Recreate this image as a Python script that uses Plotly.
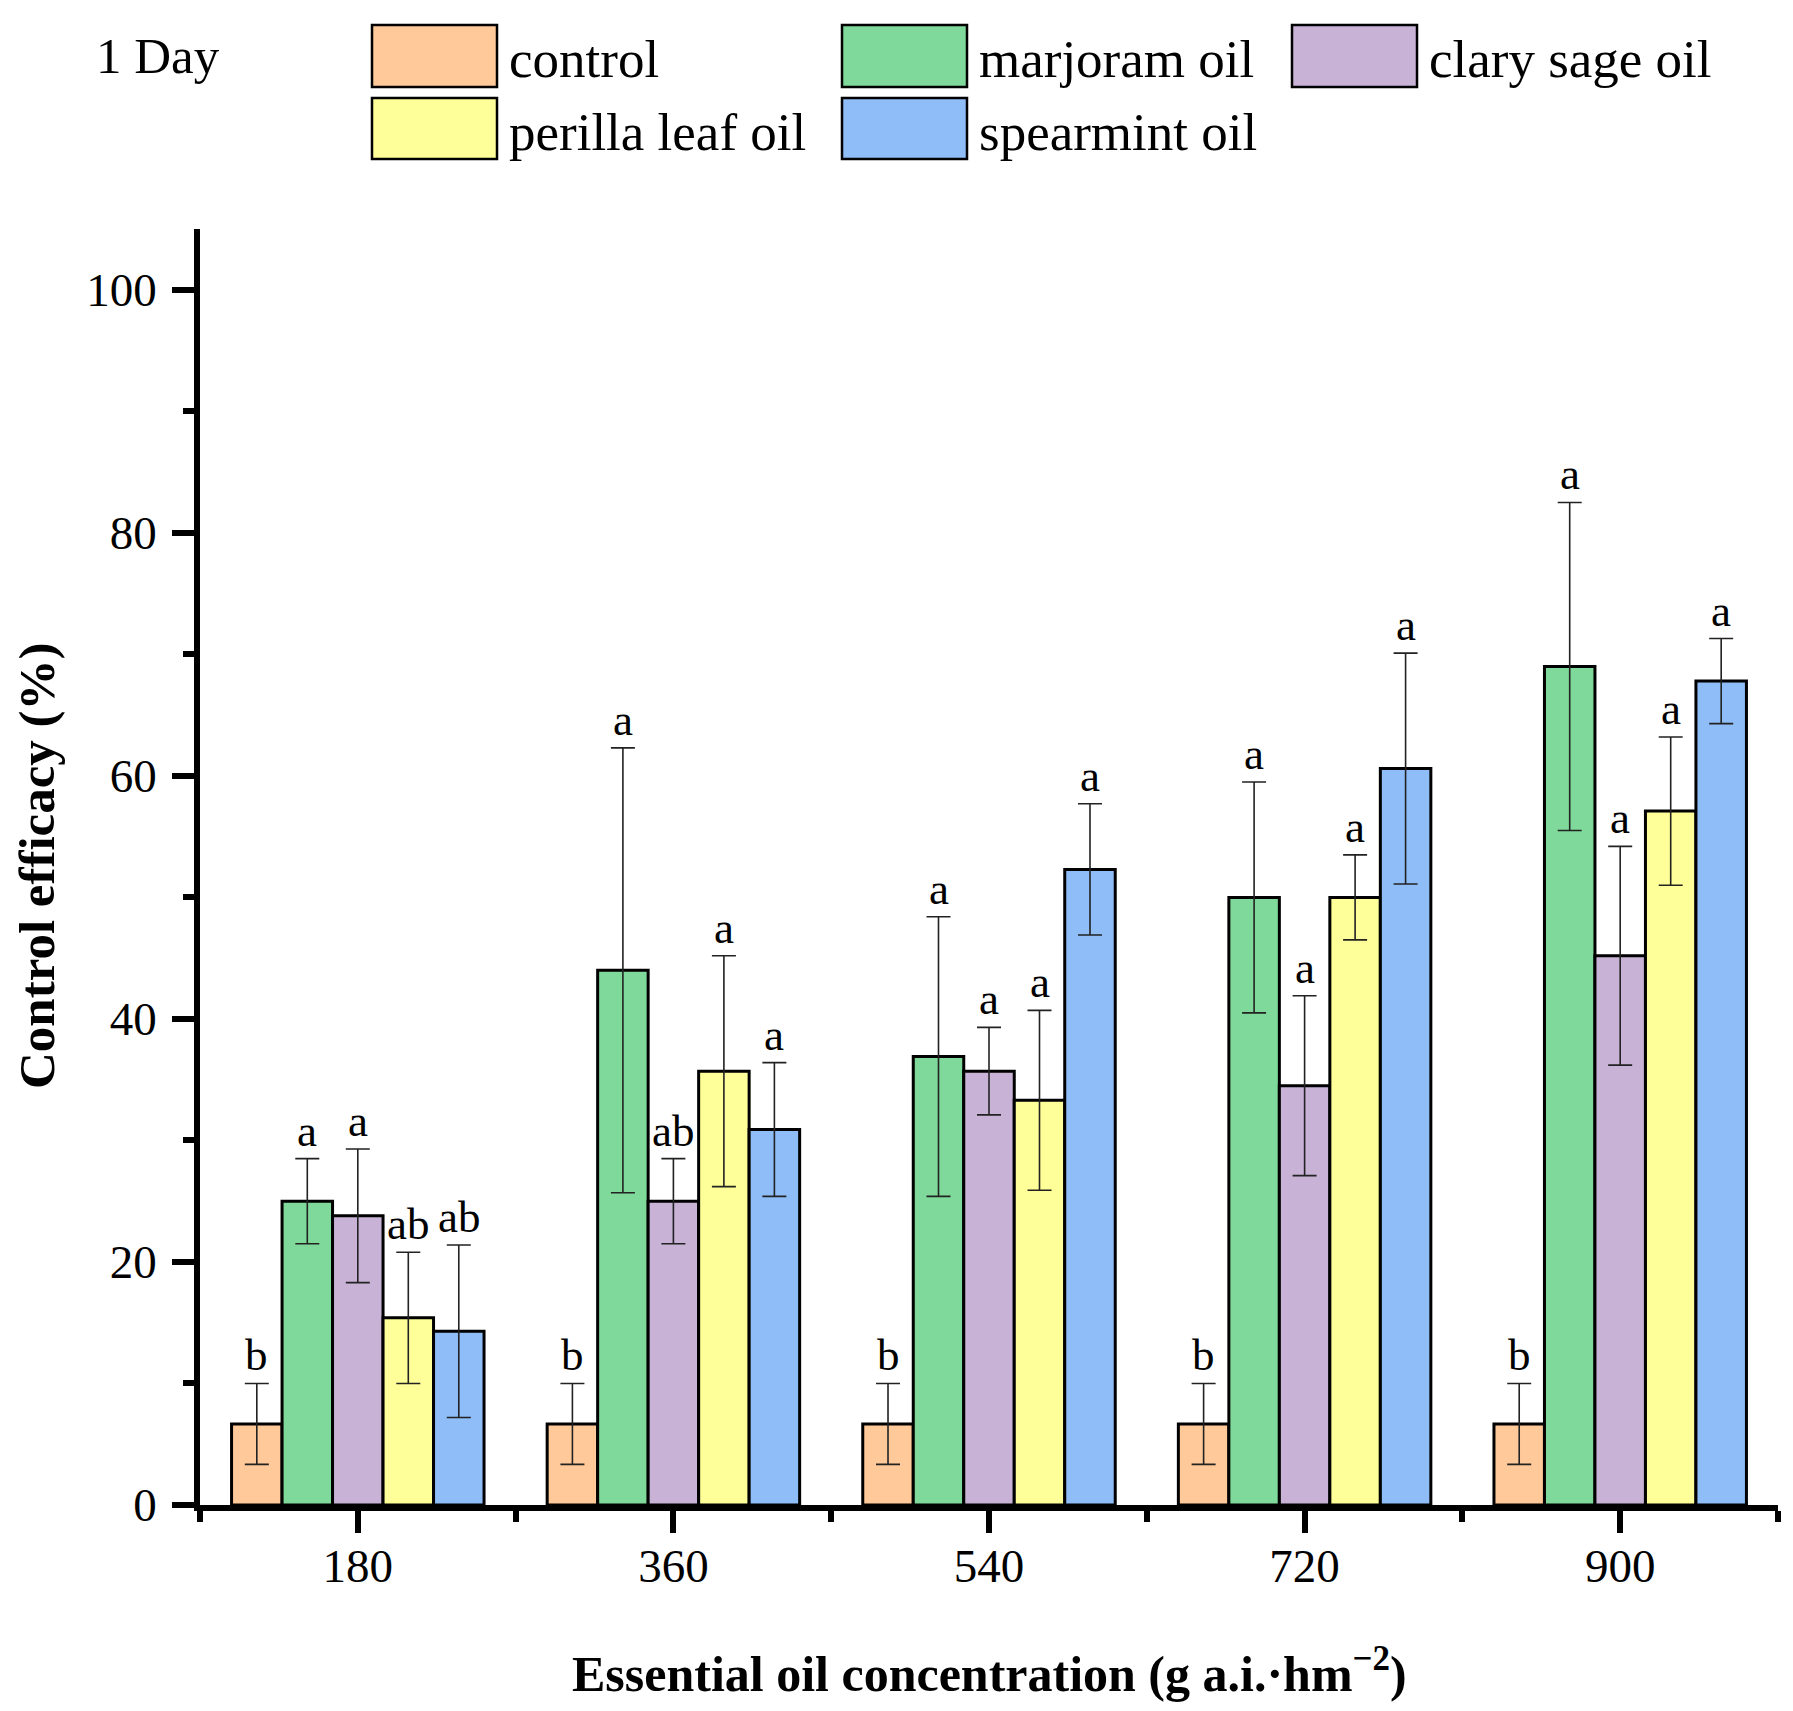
import plotly.graph_objects as go

# ---- data ----
concentrations = ["180", "360", "540", "720", "900"]
series_names = ["control", "marjoram oil", "clary sage oil", "perilla leaf oil", "spearmint oil"]
series_colors = ["#FFC999", "#7FD99A", "#C8B3D7", "#FFFF99", "#8FBDF7"]

control_vals = [6.67, 6.67, 6.67, 6.67, 6.67]
control_err = [3.33, 3.33, 3.33, 3.33, 3.33]
control_letters = ["b", "b", "b", "b", "b"]

marjoram_vals = [25.0, 44.0, 36.9, 50.0, 69.0]
marjoram_err = [3.5, 18.3, 11.5, 9.5, 13.5]
marjoram_letters = ["a", "a", "a", "a", "a"]

clary_vals = [23.8, 25.0, 35.7, 34.5, 45.2]
clary_err = [5.5, 3.5, 3.6, 7.4, 9.0]
clary_letters = ["a", "ab", "a", "a", "a"]

perilla_vals = [15.4, 35.7, 33.3, 50.0, 57.1]
perilla_err = [5.4, 9.5, 7.4, 3.5, 6.1]
perilla_letters = ["ab", "a", "a", "a", "a"]

spearmint_vals = [14.3, 30.9, 52.3, 60.6, 67.8]
spearmint_err = [7.1, 5.5, 5.4, 9.5, 3.5]
spearmint_letters = ["ab", "a", "a", "a", "a"]

all_vals = [control_vals, marjoram_vals, clary_vals, perilla_vals, spearmint_vals]
all_errs = [control_err, marjoram_err, clary_err, perilla_err, spearmint_err]
all_letters = [control_letters, marjoram_letters, clary_letters, perilla_letters, spearmint_letters]

y_ticks = [0, 20, 40, 60, 80, 100]

# ---- layout geometry (screen pixels; page body has an 8px margin) ----
OFF = 8
W, H = 1793 - 2 * OFF, 1711 - 2 * OFF
PLOT_L, PLOT_R, PLOT_T, PLOT_B = 200, 1778, 229, 1505  # screen coords
ML = PLOT_L - OFF
MT = PLOT_T - OFF
MR = OFF + W - PLOT_R
MB = OFF + H - PLOT_B
PW = PLOT_R - PLOT_L
PH = PLOT_B - PLOT_T
FONT = "Liberation Serif"


def X(px):
    return (px - PLOT_L) / PW


def Y(py):
    return (PLOT_B - py) / PH


xpos = list(range(len(concentrations)))
bargap = 0.2
nser = len(series_names)
bw = (1 - bargap) / nser

fig = go.Figure()
for i, name in enumerate(series_names):
    fig.add_trace(go.Bar(
        x=xpos, y=all_vals[i], name=name,
        marker=dict(color=series_colors[i], line=dict(color="black", width=3)),
        error_y=dict(type="data", array=all_errs[i], symmetric=True,
                     color="#222222", thickness=1.6, width=12),
        showlegend=False,
    ))

annotations = []
# significance letters
for i in range(nser):
    off = -(1 - bargap) / 2 + bw * (i + 0.5)
    for j in xpos:
        annotations.append(dict(
            x=j + off, y=all_vals[i][j] + all_errs[i][j], xref="x", yref="y",
            text=all_letters[i][j], showarrow=False, yanchor="bottom",
            yshift=1, font=dict(family=FONT, size=45, color="black")))

# legend drawn manually
shapes = []
box_w = 125
col_x = [372, 842, 1292]
row_y = [(25, 87), (98, 159)]
slots = [(0, 0), (1, 0), (2, 0), (0, 1), (1, 1)]
for i, name in enumerate(series_names):
    c, r = slots[i]
    x0 = col_x[c]
    y0, y1 = row_y[r]
    shapes.append(dict(type="rect", xref="paper", yref="paper",
                       x0=X(x0), x1=X(x0 + box_w), y0=Y(y1), y1=Y(y0),
                       fillcolor=series_colors[i], line=dict(color="black", width=2.5)))
    annotations.append(dict(x=X(x0 + box_w + 10), y=Y((y0 + y1) / 2 + 3), xref="paper", yref="paper",
                            text=name, showarrow=False, xanchor="left", yanchor="middle",
                            font=dict(family=FONT, size=53, color="black")))

annotations.append(dict(x=X(94), y=Y(56), xref="paper", yref="paper", text="1 Day",
                        showarrow=False, xanchor="left", yanchor="middle",
                        font=dict(family=FONT, size=51, color="black")))

# axis titles
annotations.append(dict(x=X(37), y=Y(866), xref="paper", yref="paper",
                        text="<b>Control efficacy (%)</b>", textangle=-90, showarrow=False,
                        xanchor="center", yanchor="middle",
                        font=dict(family=FONT, size=51, color="black")))
annotations.append(dict(x=X(989), y=Y(1670), xref="paper", yref="paper",
                        text="<b>Essential oil concentration (g a.i.·hm<sup>−2</sup>)</b>",
                        showarrow=False, xanchor="center", yanchor="middle",
                        font=dict(family=FONT, size=50, color="black")))

fig.update_layout(
    width=W, height=H,
    margin=dict(l=ML, r=MR, t=MT, b=MB),
    paper_bgcolor="white", plot_bgcolor="white",
    barmode="group", bargap=bargap, bargroupgap=0,
    shapes=shapes, annotations=annotations,
    font=dict(family=FONT, color="black"),
    xaxis=dict(
        range=[-0.5, len(concentrations) - 0.5],
        tickmode="array", tickvals=xpos, ticktext=concentrations,
        ticks="outside", ticklen=22, tickwidth=5.5, tickcolor="black",
        showline=True, linecolor="black", linewidth=5.5,
        showgrid=False, zeroline=False,
        tickfont=dict(family=FONT, size=47, color="black"),
        ticklabelstandoff=-7,
        minor=dict(tickmode="array",
                   tickvals=[j - 0.5 for j in range(len(concentrations) + 1)],
                   ticks="outside", ticklen=11, tickwidth=5.5, tickcolor="black", showgrid=False),
    ),
    yaxis=dict(
        range=[0, 105],
        tickmode="array", tickvals=y_ticks,
        ticks="outside", ticklen=22, tickwidth=5.5, tickcolor="black",
        showline=True, linecolor="black", linewidth=5.5,
        showgrid=False, zeroline=False,
        tickfont=dict(family=FONT, size=47, color="black"),
        ticklabelstandoff=6,
        minor=dict(tickmode="array", tickvals=[10, 30, 50, 70, 90],
                   ticks="outside", ticklen=11, tickwidth=5.5, tickcolor="black", showgrid=False),
    ),
)

fig.write_html("out.html")
